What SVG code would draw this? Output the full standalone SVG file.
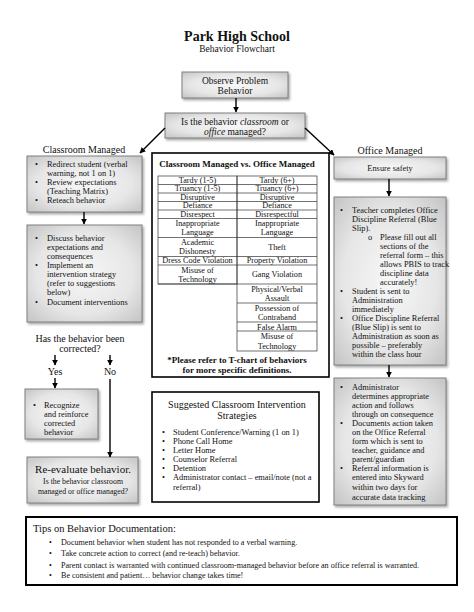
<svg xmlns="http://www.w3.org/2000/svg" width="474" height="612" viewBox="0 0 474 612">
<defs>
<radialGradient id="g" cx="50%" cy="50%" r="70%">
<stop offset="0" stop-color="#f7f7f7"/>
<stop offset="0.6" stop-color="#e6e6e6"/>
<stop offset="1" stop-color="#c4c4c4"/>
</radialGradient>
<filter id="sh" x="-10%" y="-10%" width="125%" height="130%">
<feDropShadow dx="1.5" dy="2" stdDeviation="1" flood-color="#777" flood-opacity="0.6"/>
</filter>
<marker id="ah" viewBox="0 0 10 10" refX="9" refY="5" markerWidth="6" markerHeight="6" orient="auto" markerUnits="userSpaceOnUse">
<path d="M0,0 L10,5 L0,10 Z" fill="#000"/>
</marker>
</defs>
<style>
text{font-family:"Liberation Serif","Times New Roman",serif;fill:#111}
.gbox{fill:url(#g);stroke:#808080;stroke-width:1;filter:url(#sh)}
.wbox{fill:#fff;stroke:#000;stroke-width:1.6}
.t{font-size:8.4px}
.c{text-anchor:middle}
.h{font-size:10px}
.tb{font-size:8.2px;text-anchor:middle}
.cell{fill:none;stroke:#333;stroke-width:0.7}
.con{stroke:#000;stroke-width:1.4;fill:none;marker-end:url(#ah)}
.b{font-weight:bold}
</style>
<rect width="474" height="612" fill="#fff"/>

<g id="title">
<text x="237" y="41" class="c b" font-size="14">Park High School</text>
<text x="237" y="52" class="c" font-size="9.5">Behavior Flowchart</text>
</g>

<g id="observe">
<rect class="gbox" x="182" y="72" width="106" height="26"/>
<text x="235" y="84" class="c" font-size="9.5">Observe Problem</text>
<text x="235" y="94" class="c" font-size="9.5">Behavior</text>
</g>

<g id="question">
<rect class="gbox" x="165" y="113" width="140" height="25"/>
<text x="235" y="125" class="c" font-size="9.5">Is the behavior <tspan font-style="italic">classroom</tspan> or</text>
<text x="235" y="135" class="c" font-size="9.5"><tspan font-style="italic">office</tspan> managed?</text>
</g>

<g id="label-classroom">
<text x="84" y="153" class="c h">Classroom Managed</text>
</g>
<g id="label-office">
<text x="390" y="154" class="c h">Office Managed</text>
</g>

<g id="classroom1">
<rect class="gbox" x="27" y="156" width="115" height="56"/>
<g class="t">
<text x="35" y="167">•</text><text x="47" y="167">Redirect student (verbal</text>
<text x="47" y="176">warning, not 1 on 1)</text>
<text x="35" y="185">•</text><text x="47" y="185">Review expectations</text>
<text x="47" y="194">(Teaching Matrix)</text>
<text x="35" y="203">•</text><text x="47" y="203">Reteach behavior</text>
</g>
</g>

<g id="classroom2">
<rect class="gbox" x="27" y="225" width="115" height="97"/>
<g class="t">
<text x="35" y="241">•</text><text x="47" y="241">Discuss behavior</text>
<text x="47" y="250">expectations and</text>
<text x="47" y="259">consequences</text>
<text x="35" y="268">•</text><text x="47" y="268">Implement an</text>
<text x="47" y="277">intervention strategy</text>
<text x="47" y="286">(refer to suggestions</text>
<text x="47" y="295">below)</text>
<text x="35" y="305">•</text><text x="47" y="305">Document interventions</text>
</g>
</g>

<g id="corrected">
<text x="80" y="342" class="c h">Has the behavior been</text>
<text x="80" y="352" class="c h">corrected?</text>
</g>
<g id="yes"><text x="55" y="375" class="c h">Yes</text></g>
<g id="no"><text x="110" y="375" class="c h">No</text></g>

<g id="recognize">
<rect class="gbox" x="25" y="389" width="73" height="50"/>
<g class="t">
<text x="33" y="408">•</text><text x="44" y="408">Recognize</text>
<text x="44" y="417">and reinforce</text>
<text x="44" y="426">corrected</text>
<text x="44" y="435">behavior</text>
</g>
</g>

<g id="reevaluate">
<rect class="gbox" x="27" y="457" width="111" height="46"/>
<text x="83" y="473" class="c" font-size="11">Re-evaluate behavior.</text>
<text x="83" y="484" class="c" font-size="7.8">Is the behavior classroom</text>
<text x="83" y="494" class="c" font-size="7.8">managed or office managed?</text>
</g>

<g id="tchart">
<rect class="wbox" x="152" y="153" width="177" height="224"/>
<text x="237" y="167" class="c b" font-size="9">Classroom Managed vs. Office Managed</text>
<g>
<rect class="cell" x="158" y="176" width="79" height="108"/>
<rect class="cell" x="237" y="176" width="80" height="175"/>
<path class="cell" d="M158,184.5H317M158,193H317M158,201.5H317M158,210H317M158,218.5H317M158,237.5H317M158,256.5H317M158,265H317M158,284H317M237,303H317M237,322H317M237,331H317"/>
</g>
<g class="tb">
<text x="197.5" y="182.5">Tardy (1-5)</text><text x="277" y="182.5">Tardy (6+)</text>
<text x="197.5" y="191">Truancy (1-5)</text><text x="277" y="191">Truancy (6+)</text>
<text x="197.5" y="199.5">Disruptive</text><text x="277" y="199.5">Disruptive</text>
<text x="197.5" y="208">Defiance</text><text x="277" y="208">Defiance</text>
<text x="197.5" y="216.5">Disrespect</text><text x="277" y="216.5">Disrespectful</text>
<text x="197.5" y="226">Inappropriate</text><text x="277" y="226">Inappropriate</text>
<text x="197.5" y="235">Language</text><text x="277" y="235">Language</text>
<text x="197.5" y="245">Academic</text><text x="277" y="249.5">Theft</text>
<text x="197.5" y="254">Dishonesty</text>
<text x="197.5" y="263">Dress Code Violation</text><text x="277" y="263">Property Violation</text>
<text x="197.5" y="273">Misuse of</text><text x="277" y="277">Gang Violation</text>
<text x="197.5" y="282">Technology</text>
<text x="277" y="292">Physical/Verbal</text>
<text x="277" y="301">Assault</text>
<text x="277" y="311">Possession of</text>
<text x="277" y="320">Contraband</text>
<text x="277" y="329.5">False Alarm</text>
<text x="277" y="339">Misuse of</text>
<text x="277" y="348.5">Technology</text>
</g>
<text x="237" y="363" class="c b" font-size="9">*Please refer to T-chart of behaviors</text>
<text x="237" y="373" class="c b" font-size="9">for more specific definitions.</text>
</g>

<g id="suggested">
<rect class="wbox" x="152" y="392" width="167" height="110"/>
<text x="237" y="408" class="c" font-size="10">Suggested Classroom Intervention</text>
<text x="237" y="419" class="c" font-size="10">Strategies</text>
<g class="t">
<text x="162" y="435">•</text><text x="173" y="435">Student Conference/Warning (1 on 1)</text>
<text x="162" y="444">•</text><text x="173" y="444">Phone Call Home</text>
<text x="162" y="453">•</text><text x="173" y="453">Letter Home</text>
<text x="162" y="462">•</text><text x="173" y="462">Counselor Referral</text>
<text x="162" y="471">•</text><text x="173" y="471">Detention</text>
<text x="162" y="480">•</text><text x="173" y="480">Administrator contact – email/note (not a</text>
<text x="173" y="490">referral)</text>
</g>
</g>

<g id="ensure">
<rect class="gbox" x="334" y="157" width="112" height="22"/>
<text x="390" y="171" class="c t">Ensure safety</text>
</g>

<g id="office1">
<rect class="gbox" x="334" y="197" width="112" height="168"/>
<g class="t">
<text x="340" y="213">•</text><text x="352" y="213">Teacher completes Office</text>
<text x="352" y="222">Discipline Referral (Blue</text>
<text x="352" y="231">Slip).</text>
<text x="368" y="240">o</text><text x="380" y="240">Please fill out all</text>
<text x="380" y="249">sections of the</text>
<text x="380" y="258">referral form – this</text>
<text x="380" y="267">allows PBIS to track</text>
<text x="380" y="276">discipline data</text>
<text x="380" y="285">accurately!</text>
<text x="340" y="294">•</text><text x="352" y="294">Student is sent to</text>
<text x="352" y="303">Administration</text>
<text x="352" y="312">immediately</text>
<text x="340" y="321">•</text><text x="352" y="321">Office Discipline Referral</text>
<text x="352" y="330">(Blue Slip) is sent to</text>
<text x="352" y="339">Administration as soon as</text>
<text x="352" y="348">possible – preferably</text>
<text x="352" y="357">within the class hour</text>
</g>
</g>

<g id="office2">
<rect class="gbox" x="334" y="378" width="112" height="127"/>
<g class="t">
<text x="340" y="390">•</text><text x="352" y="390">Administrator</text>
<text x="352" y="399">determines appropriate</text>
<text x="352" y="408">action and follows</text>
<text x="352" y="417">through on consequence</text>
<text x="340" y="426">•</text><text x="352" y="426">Documents action taken</text>
<text x="352" y="435">on the Office Referral</text>
<text x="352" y="444">form which is sent to</text>
<text x="352" y="453">teacher, guidance and</text>
<text x="352" y="462">parent/guardian</text>
<text x="340" y="471">•</text><text x="352" y="471">Referral information is</text>
<text x="352" y="480">entered into Skyward</text>
<text x="352" y="490">within two days for</text>
<text x="352" y="500">accurate data tracking</text>
</g>
</g>

<g id="tips">
<rect x="26" y="517" width="431" height="68" fill="#fff" stroke="#000" stroke-width="2"/>
<text x="33" y="532" font-size="10.5">Tips on Behavior Documentation:</text>
<g font-size="8.1px">
<text x="49" y="545">•</text><text x="61" y="545">Document behavior when student has not responded to a verbal warning.</text>
<text x="49" y="556">•</text><text x="61" y="556">Take concrete action to correct (and re-teach) behavior.</text>
<text x="49" y="568">•</text><text x="61" y="568">Parent contact is warranted with continued classroom-managed behavior before an office referral is warranted.</text>
<text x="49" y="578">•</text><text x="61" y="578">Be consistent and patient… behavior change takes time!</text>
</g>
</g>

<g id="connectors">
<path class="con" d="M236,98V112"/>
<path class="con" d="M165,128L140,153"/>
<path class="con" d="M305,128L334,155"/>
<path class="con" d="M84,212V224"/>
<path class="con" d="M55,355V365"/>
<path class="con" d="M110,355V365"/>
<path class="con" d="M55,378V388"/>
<path class="con" d="M110,379V457"/>
<path class="con" d="M389,179V196"/>
<path class="con" d="M389,365V377"/>
</g>
</svg>
